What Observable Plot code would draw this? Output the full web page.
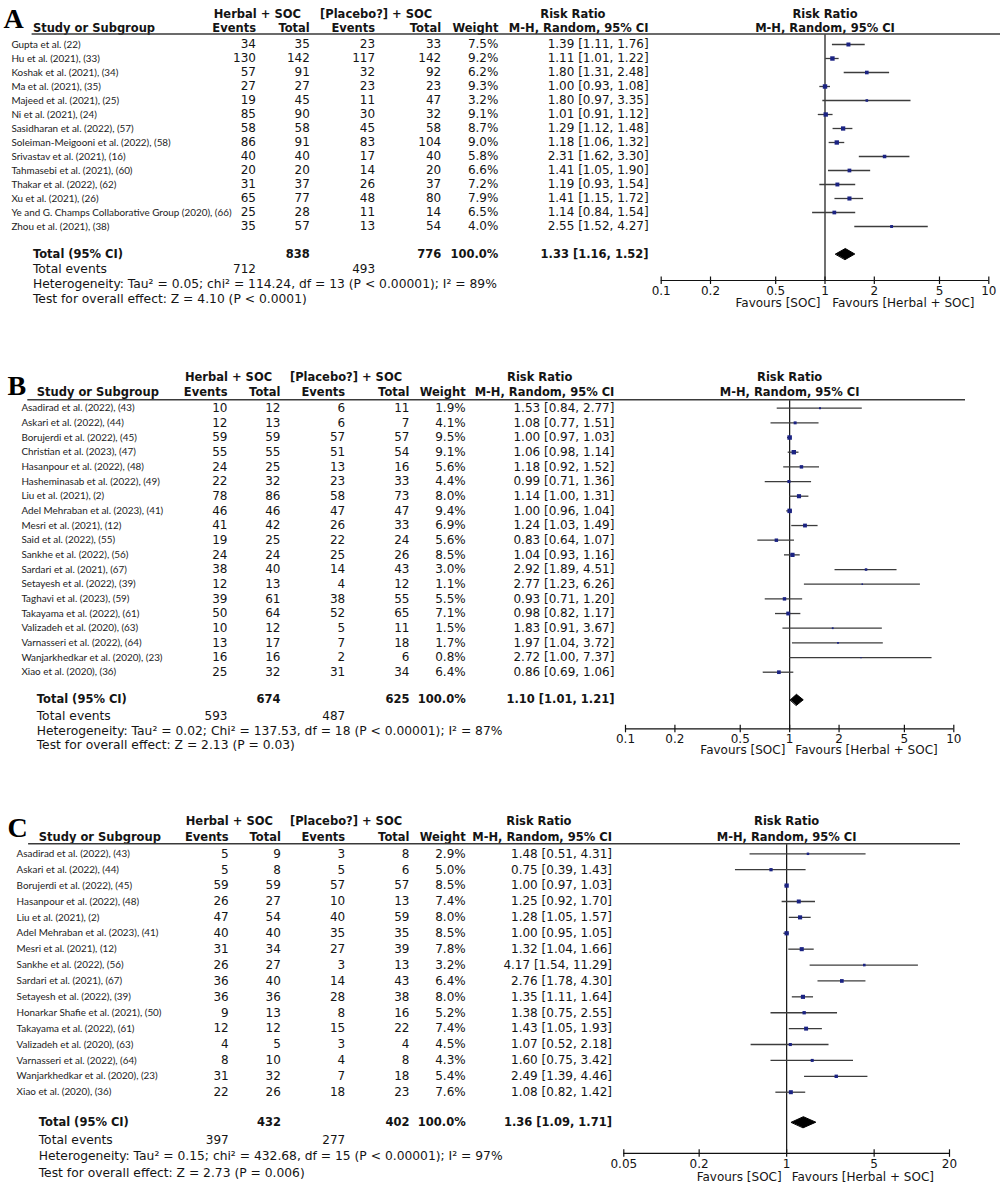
<!DOCTYPE html>
<html>
<head>
<meta charset="utf-8">
<script src="https://cdn.jsdelivr.net/npm/d3@7"></script>
<script src="https://cdn.jsdelivr.net/npm/@observablehq/plot@0.6"></script>
<style>
  body { margin: 0; background: #fff; }
  #wrap { position: relative; width: 1000px; height: 1204px; background: #fff; }
  .panel { position: absolute; left: 0; }
</style>
</head>
<body>
<div id="wrap"></div>
<script>
// ---------------- Panel A ----------------
const studiesA = ["Gupta et al. (22)", "Hu et al. (2021), (33)", "Koshak et al. (2021), (34)", "Ma et al. (2021), (35)", "Majeed et al. (2021), (25)", "Ni et al. (2021), (24)", "Sasidharan et al. (2022), (57)", "Soleiman-Meigooni et al. (2022), (58)", "Srivastav et al. (2021), (16)", "Tahmasebi et al. (2021), (60)", "Thakar et al. (2022), (62)", "Xu et al. (2021), (26)", "Ye and G. Champs Collaborative Group (2020), (66)", "Zhou et al. (2021), (38)"];
const herbEventsA = [34, 130, 57, 27, 19, 85, 58, 86, 40, 20, 31, 65, 25, 35];
const herbTotalA  = [35, 142, 91, 27, 45, 90, 58, 91, 40, 20, 37, 77, 28, 57];
const placEventsA = [23, 117, 32, 23, 11, 30, 45, 83, 17, 14, 26, 48, 11, 13];
const placTotalA  = [33, 142, 92, 23, 47, 32, 58, 104, 40, 20, 37, 80, 14, 54];
const weightA = [7.5, 9.2, 6.2, 9.3, 3.2, 9.1, 8.7, 9.0, 5.8, 6.6, 7.2, 7.9, 6.5, 4.0];
const rrA = [1.39, 1.11, 1.80, 1.00, 1.80, 1.01, 1.29, 1.18, 2.31, 1.41, 1.19, 1.41, 1.14, 2.55];
const loA = [1.11, 1.01, 1.31, 0.93, 0.97, 0.91, 1.12, 1.06, 1.62, 1.05, 0.93, 1.15, 0.84, 1.52];
const hiA = [1.76, 1.22, 2.48, 1.08, 3.35, 1.12, 1.48, 1.32, 3.30, 1.90, 1.54, 1.72, 1.54, 4.27];
const totalA = {herbTotal: 838, placTotal: 776, weight: "100.0%", rr: 1.33, lo: 1.16, hi: 1.52, herbEvents: 712, placEvents: 493};
const hetA = "Heterogeneity: Tau² = 0.05; chi² = 114.24, df = 13 (P < 0.00001); I² = 89%";
const testA = "Test for overall effect: Z = 4.10 (P < 0.0001)";
const ticksA = [0.1, 0.2, 0.5, 1, 2, 5, 10];

// ---------------- Panel B ----------------
const studiesB = ["Asadirad et al. (2022), (43)", "Askari et al. (2022), (44)", "Borujerdi et al. (2022), (45)", "Christian et al. (2023), (47)", "Hasanpour et al. (2022), (48)", "Hasheminasab et al. (2022), (49)", "Liu et al. (2021), (2)", "Adel Mehraban et al. (2023), (41)", "Mesri et al. (2021), (12)", "Said et al. (2022), (55)", "Sankhe et al. (2022), (56)", "Sardari et al. (2021), (67)", "Setayesh et al. (2022), (39)", "Taghavi et al. (2023), (59)", "Takayama et al. (2022), (61)", "Valizadeh et al. (2020), (63)", "Varnasseri et al. (2022), (64)", "Wanjarkhedkar et al. (2020), (23)", "Xiao et al. (2020), (36)"];
const herbEventsB = [10, 12, 59, 55, 24, 22, 78, 46, 41, 19, 24, 38, 12, 39, 50, 10, 13, 16, 25];
const herbTotalB  = [12, 13, 59, 55, 25, 32, 86, 46, 42, 25, 24, 40, 13, 61, 64, 12, 17, 16, 32];
const placEventsB = [6, 6, 57, 51, 13, 23, 58, 47, 26, 22, 25, 14, 4, 38, 52, 5, 7, 2, 31];
const placTotalB  = [11, 7, 57, 54, 16, 33, 73, 47, 33, 24, 26, 43, 12, 55, 65, 11, 18, 6, 34];
const weightB = [1.9, 4.1, 9.5, 9.1, 5.6, 4.4, 8.0, 9.4, 6.9, 5.6, 8.5, 3.0, 1.1, 5.5, 7.1, 1.5, 1.7, 0.8, 6.4];
const rrB = [1.53, 1.08, 1.00, 1.06, 1.18, 0.99, 1.14, 1.00, 1.24, 0.83, 1.04, 2.92, 2.77, 0.93, 0.98, 1.83, 1.97, 2.72, 0.86];
const loB = [0.84, 0.77, 0.97, 0.98, 0.92, 0.71, 1.00, 0.96, 1.03, 0.64, 0.93, 1.89, 1.23, 0.71, 0.82, 0.91, 1.04, 1.00, 0.69];
const hiB = [2.77, 1.51, 1.03, 1.14, 1.52, 1.36, 1.31, 1.04, 1.49, 1.07, 1.16, 4.51, 6.26, 1.20, 1.17, 3.67, 3.72, 7.37, 1.06];
const totalB = {herbTotal: 674, placTotal: 625, weight: "100.0%", rr: 1.10, lo: 1.01, hi: 1.21, herbEvents: 593, placEvents: 487};
const hetB = "Heterogeneity: Tau² = 0.02; Chi² = 137.53, df = 18 (P < 0.00001); I² = 87%";
const testB = "Test for overall effect: Z = 2.13 (P = 0.03)";
const ticksB = [0.1, 0.2, 0.5, 1, 2, 5, 10];

// ---------------- Panel C ----------------
const studiesC = ["Asadirad et al. (2022), (43)", "Askari et al. (2022), (44)", "Borujerdi et al. (2022), (45)", "Hasanpour et al. (2022), (48)", "Liu et al. (2021), (2)", "Adel Mehraban et al. (2023), (41)", "Mesri et al. (2021), (12)", "Sankhe et al. (2022), (56)", "Sardari et al. (2021), (67)", "Setayesh et al. (2022), (39)", "Honarkar Shafie et al. (2021), (50)", "Takayama et al. (2022), (61)", "Valizadeh et al. (2020), (63)", "Varnasseri et al. (2022), (64)", "Wanjarkhedkar et al. (2020), (23)", "Xiao et al. (2020), (36)"];
const herbEventsC = [5, 5, 59, 26, 47, 40, 31, 26, 36, 36, 9, 12, 4, 8, 31, 22];
const herbTotalC  = [9, 8, 59, 27, 54, 40, 34, 27, 40, 36, 13, 12, 5, 10, 32, 26];
const placEventsC = [3, 5, 57, 10, 40, 35, 27, 3, 14, 28, 8, 15, 3, 4, 7, 18];
const placTotalC  = [8, 6, 57, 13, 59, 35, 39, 13, 43, 38, 16, 22, 4, 8, 18, 23];
const weightC = [2.9, 5.0, 8.5, 7.4, 8.0, 8.5, 7.8, 3.2, 6.4, 8.0, 5.2, 7.4, 4.5, 4.3, 5.4, 7.6];
const rrC = [1.48, 0.75, 1.00, 1.25, 1.28, 1.00, 1.32, 4.17, 2.76, 1.35, 1.38, 1.43, 1.07, 1.60, 2.49, 1.08];
const loC = [0.51, 0.39, 0.97, 0.92, 1.05, 0.95, 1.04, 1.54, 1.78, 1.11, 0.75, 1.05, 0.52, 0.75, 1.39, 0.82];
const hiC = [4.31, 1.43, 1.03, 1.70, 1.57, 1.05, 1.66, 11.29, 4.30, 1.64, 2.55, 1.93, 2.18, 3.42, 4.46, 1.42];
const totalC = {herbTotal: 432, placTotal: 402, weight: "100.0%", rr: 1.36, lo: 1.09, hi: 1.71, herbEvents: 397, placEvents: 277};
const hetC = "Heterogeneity: Tau² = 0.15; chi² = 432.68, df = 15 (P < 0.00001); I² = 97%";
const testC = "Test for overall effect: Z = 2.73 (P = 0.006)";
const ticksC = [0.05, 0.2, 1, 5, 20];

// Shared text
const header1 = ["Herbal + SOC", "[Placebo?] + SOC", "Risk Ratio"];
const header2 = ["Study or Subgroup", "Events", "Total", "Events", "Total", "Weight", "M-H, Random, 95% CI"];
const favours = ["Favours [SOC]", "Favours [Herbal + SOC]"];

// ---------------- Layout (pixels) ----------------
const layoutA = {label: "A", top: 0, height: 320, row0: 44, rowLast: 226, totalY: 253.5, eventsY: 269, hetY: 284, testY: 298.5,
  head1: 14, head2: 28, lineY: 33.5, lineX1: 31.6, lineX2: 1000, labelX: 3, labelY: 18.5,
  nameX: 10.9, studyX: 32.4, cols: [255.5, 309.3, 374.6, 440.7, 497.9, 648.1], hCenters: [256.8, 375.6, 572.4],
  axisY: 280, tickLabY: 290.7, favY: 302.7, favGap: [4.5, 7.2], xRange: [660.7, 988.3]};
const layoutB = {label: "B", top: 350, height: 420, row0: 407.7, rowLast: 671.7, totalY: 699.3, eventsY: 715.3, hetY: 730.7, testY: 744.7,
  head1: 376.7, head2: 392, lineY: 399.3, lineX1: 27.3, lineX2: 965, labelX: 7, labelY: 385.7,
  nameX: 20.9, studyX: 36.2, cols: [227, 280, 344.7, 409, 465.2, 613.9], hCenters: [228, 345.5, 539.2],
  axisY: 728.3, tickLabY: 738.3, favY: 750, favGap: [4.3, 5.7], xRange: [625, 953.3]};
const layoutC = {label: "C", top: 790, height: 414, row0: 853.3, rowLast: 1091.7, totalY: 1121.7, eventsY: 1139.3, hetY: 1156, testY: 1173,
  head1: 820.7, head2: 836.7, lineY: 843.3, lineX1: 28.1, lineX2: 960, labelX: 7, labelY: 828,
  nameX: 16.1, studyX: 38.2, cols: [228.2, 280.4, 344.7, 409, 465.2, 611.5], hCenters: [228.8, 345.5, 538.4],
  axisY: 1152.8, tickLabY: 1164, favY: 1177, favGap: [5, 5], xRange: [623.3, 949]};

const NUM = "'DejaVu Sans', Verdana, sans-serif";
const NAME = "Lato, 'Liberation Sans', sans-serif";
const SERIF = "'Liberation Serif', 'DejaVu Serif', serif";
const INK = "#141414";
const SQUARE = "#1b2383";

const f2 = v => v.toFixed(2);
const rrText = (r, l, h) => `${f2(r)} [${f2(l)}, ${f2(h)}]`;

function forestPanel(d, L) {
  const n = d.studies.length;
  const top = L.top;
  const step = (L.rowLast - L.row0) / (n - 1);
  const Y = px => (px - L.row0) / step;   // pixel -> row index (for layout rules)
  const ly = px => px - top;               // global -> local pixel offset
  const rows = d.studies.map((name, i) => ({
    i, name, eh: d.eh[i], th: d.th[i], ep: d.ep[i], tp: d.tp[i],
    w: d.w[i], rr: d.rr[i], lo: d.lo[i], hi: d.hi[i]
  }));
  const t = d.total;
  const tI = Y(L.totalY);
  const dh = 5.5 / step;
  const diamond = [
    {x: t.lo, y: tI}, {x: t.rr, y: tI - dh}, {x: t.hi, y: tI}, {x: t.rr, y: tI + dh}
  ];

  const txt = (str, x, y, anchor, opts = {}) => Plot.text([str], {
    text: s => s, frameAnchor: "top-left", dx: x, dy: ly(y), textAnchor: anchor,
    lineAnchor: "middle", fontFamily: NUM, fontSize: 12, fill: INK, ...opts
  });
  const bold = {fontWeight: "bold", fontSize: 11.5};
  const foot = {fontSize: 12.3};
  const col = (fn, x, opts = {}) => Plot.text(rows, {
    y: "i", text: fn, frameAnchor: "left", dx: x, textAnchor: "end",
    fontFamily: NUM, fontSize: 12, fill: INK, ...opts
  });

  const marks = [
    // panel label
    txt(L.label, L.labelX, L.labelY, "start", {fontFamily: SERIF, fontWeight: "bold", fontSize: 28, fill: "#000"}),
    // header rows
    txt(header1[0], L.hCenters[0], L.head1, "middle", bold),
    txt(header1[1], L.hCenters[1], L.head1, "middle", bold),
    txt(header1[2], L.hCenters[2], L.head1, "middle", bold),
    txt(header2[0], L.studyX, L.head2, "start", bold),
    ...header2.slice(1).map((h, k) => txt(h, L.cols[k], L.head2, "end", bold)),
    Plot.text([header1[2]], {x: () => 1, frameAnchor: "top", dy: ly(L.head1), text: s => s, textAnchor: "middle", lineAnchor: "middle", fontFamily: NUM, ...bold, fill: INK}),
    Plot.text([header2[6]], {x: () => 1, frameAnchor: "top", dy: ly(L.head2), text: s => s, textAnchor: "middle", lineAnchor: "middle", fontFamily: NUM, ...bold, fill: INK}),
    // header rule
    Plot.ruleY([Y(L.lineY)], {insetLeft: L.lineX1, insetRight: 1000 - L.lineX2, stroke: "#3a3a3a", strokeWidth: 1.5}),
    // study rows
    Plot.text(rows, {y: "i", text: "name", frameAnchor: "left", dx: L.nameX, textAnchor: "start", fontFamily: NAME, fontSize: 9.9, fill: "#222"}),
    col(r => String(r.eh), L.cols[0]),
    col(r => String(r.th), L.cols[1]),
    col(r => String(r.ep), L.cols[2]),
    col(r => String(r.tp), L.cols[3]),
    col(r => r.w.toFixed(1) + "%", L.cols[4]),
    col(r => rrText(r.rr, r.lo, r.hi), L.cols[5]),
    // total row
    txt("Total (95% CI)", L.studyX, L.totalY, "start", bold),
    txt(String(t.herbTotal), L.cols[1], L.totalY, "end", bold),
    txt(String(t.placTotal), L.cols[3], L.totalY, "end", bold),
    txt(t.weight, L.cols[4], L.totalY, "end", bold),
    txt(rrText(t.rr, t.lo, t.hi), L.cols[5], L.totalY, "end", bold),
    // footer
    txt("Total events", L.studyX, L.eventsY, "start", foot),
    txt(String(t.herbEvents), L.cols[0], L.eventsY, "end"),
    txt(String(t.placEvents), L.cols[2], L.eventsY, "end"),
    txt(d.het, L.studyX, L.hetY, "start", foot),
    txt(d.test, L.studyX, L.testY, "start", foot),
    // forest: line of no effect
    Plot.ruleX([1], {y1: () => Y(L.lineY + 1), y2: () => Y(L.axisY), stroke: "#111", strokeWidth: 1.2}),
    // CIs
    Plot.ruleY(rows, {y: "i", x1: "lo", x2: "hi", stroke: "#3c3c3c", strokeWidth: 1.3}),
    // squares
    Plot.dot(rows, {x: "rr", y: "i", r: "w", symbol: "square", fill: SQUARE, stroke: null}),
    // diamond
    Plot.line(diamond, {x: "x", y: "y", curve: "linear-closed", fill: "#000", stroke: "#000", strokeWidth: 1}),
    // axis
    Plot.ruleY([Y(L.axisY)], {x1: () => d.ticks[0], x2: () => d.ticks[d.ticks.length - 1], stroke: "#111", strokeWidth: 1.2}),
    Plot.ruleX(d.ticks, {x: v => v, y1: () => Y(L.axisY - 3.5), y2: () => Y(L.axisY + 4), stroke: "#111", strokeWidth: 1.2}),
    Plot.text(d.ticks, {x: v => v, frameAnchor: "top", dy: ly(L.tickLabY), text: v => String(v), textAnchor: "middle", lineAnchor: "middle", fontFamily: NUM, fontSize: 12, fill: INK}),
    Plot.text([favours[0]], {x: () => 1, frameAnchor: "top", dy: ly(L.favY), dx: -L.favGap[0], text: s => s, textAnchor: "end", lineAnchor: "middle", fontFamily: NUM, fontSize: 12, fill: INK}),
    Plot.text([favours[1]], {x: () => 1, frameAnchor: "top", dy: ly(L.favY), dx: L.favGap[1], text: s => s, textAnchor: "start", lineAnchor: "middle", fontFamily: NUM, fontSize: 12, fill: INK})
  ];

  const svg = Plot.plot({
    width: 1000,
    height: L.height,
    marginTop: 0, marginRight: 0, marginBottom: 0, marginLeft: 0,
    style: {background: "#fff", overflow: "visible"},
    x: {type: "log", domain: [d.ticks[0], d.ticks[d.ticks.length - 1]], range: L.xRange, axis: null},
    y: {type: "linear", domain: [0, n - 1], range: [L.row0 - top, L.rowLast - top], axis: null},
    r: {type: "sqrt", domain: [0, 10], range: [0, 2.6]},
    marks
  });
  const div = document.createElement("div");
  div.className = "panel";
  div.style.top = top + "px";
  div.appendChild(svg);
  return div;
}

const wrap = document.getElementById("wrap");
wrap.appendChild(forestPanel({studies: studiesA, eh: herbEventsA, th: herbTotalA, ep: placEventsA, tp: placTotalA, w: weightA, rr: rrA, lo: loA, hi: hiA, total: totalA, het: hetA, test: testA, ticks: ticksA}, layoutA));
wrap.appendChild(forestPanel({studies: studiesB, eh: herbEventsB, th: herbTotalB, ep: placEventsB, tp: placTotalB, w: weightB, rr: rrB, lo: loB, hi: hiB, total: totalB, het: hetB, test: testB, ticks: ticksB}, layoutB));
wrap.appendChild(forestPanel({studies: studiesC, eh: herbEventsC, th: herbTotalC, ep: placEventsC, tp: placTotalC, w: weightC, rr: rrC, lo: loC, hi: hiC, total: totalC, het: hetC, test: testC, ticks: ticksC}, layoutC));
</script>
</body>
</html>
